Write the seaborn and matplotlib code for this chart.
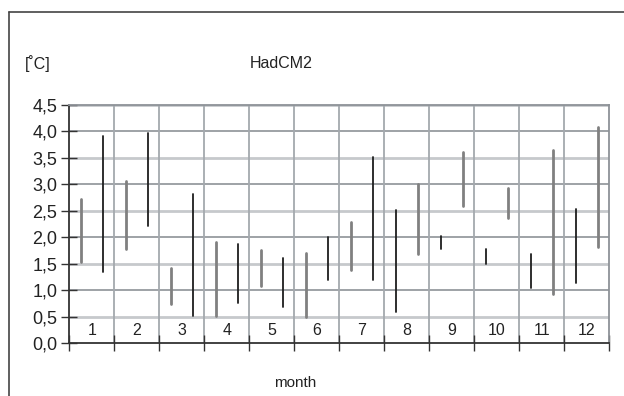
import matplotlib
matplotlib.use("Agg")
import matplotlib.pyplot as plt
import seaborn as sns
import pandas as pd
from matplotlib.lines import Line2D

# ---- data ----
months = [1, 2, 3, 4, 5, 6, 7, 8, 9, 10, 11, 12]
first_low = [1.54, 1.78, 0.74, 0.52, 1.09, 0.50, 1.39, 0.60, 1.79, 1.49, 1.04, 1.13]
first_high = [2.73, 3.07, 1.43, 1.91, 1.76, 1.71, 2.30, 2.51, 2.02, 1.78, 1.68, 2.54]
second_low = [1.35, 2.22, 0.52, 0.76, 0.69, 1.19, 1.19, 1.69, 2.59, 2.36, 0.94, 1.82]
second_high = [3.92, 3.98, 2.81, 1.87, 1.61, 2.01, 3.51, 3.00, 3.61, 2.93, 3.65, 4.09]
first_tone = ["grey"] * 7 + ["black"] * 5
second_tone = ["black"] * 7 + ["grey"] * 5
ytick_vals = [0.0, 0.5, 1.0, 1.5, 2.0, 2.5, 3.0, 3.5, 4.0, 4.5]
ytick_labels = ["0,0", "0,5", "1,0", "1,5", "2,0", "2,5", "3,0", "3,5", "4,0", "4,5"]
title = "HadCM2"
unit_label = "[˚C]"
xlabel = "month"

# ---- build long table of segments ----
rows = []
for i, m in enumerate(months):
    for pos, lo, hi, tone, tag in [(0.25, first_low[i], first_high[i], first_tone[i], "a"),
                                   (0.75, second_low[i], second_high[i], second_tone[i], "b")]:
        seg = f"{m}{tag}"
        rows.append(dict(x=m - 1 + pos, y=lo, seg=seg, tone=tone))
        rows.append(dict(x=m - 1 + pos, y=hi, seg=seg, tone=tone))
df = pd.DataFrame(rows)

sns.set_style("white")
plt.rcParams["font.family"] = ["Liberation Sans", "DejaVu Sans"]

fig = plt.figure(figsize=(6.24, 3.96), dpi=100)
ax = fig.add_axes([69.3 / 624, 1 - 343.3 / 396, 540 / 624, 238.3 / 396])

# gridlines
for k, v in enumerate(ytick_vals[1:], start=1):
    if k % 2 == 1:
        ax.axhline(v, color="#c6c9cc", lw=2.0, zorder=0)
    else:
        ax.axhline(v, color="#8d9297", lw=1.2, zorder=0)
for m in range(1, 12):
    ax.axvline(m, color="#a4a9ae", lw=1.3, zorder=0)

grey_df = df[df.tone == "grey"]
black_df = df[df.tone == "black"]
sns.lineplot(data=grey_df, x="x", y="y", units="seg", estimator=None, sort=False,
             color="#808080", lw=2.0, ax=ax, legend=False)
sns.lineplot(data=black_df, x="x", y="y", units="seg", estimator=None, sort=False,
             color="#1e1e1e", lw=1.3, ax=ax, legend=False)

ax.set_xlim(0, 12)
ax.set_ylim(0, 4.5)
ax.set_yticks(ytick_vals)
ax.set_yticklabels(ytick_labels, fontsize=13, color="#222222")
ax.set_xticks(range(0, 13))
ax.set_xticklabels([])
ax.xaxis.set_ticks_position("bottom")
ax.yaxis.set_ticks_position("left")
ax.tick_params(axis="y", direction="inout", length=11, width=1.0, color="#333333", pad=3)
ax.tick_params(axis="x", direction="inout", length=11, width=1.0, color="#333333")
ax.set_xlabel("")
ax.set_ylabel("")

for sp in ["top", "right"]:
    ax.spines[sp].set_visible(True)
    ax.spines[sp].set_color("#8d9297")
    ax.spines[sp].set_linewidth(1.3)
for sp in ["left", "bottom"]:
    ax.spines[sp].set_color("#333333")
    ax.spines[sp].set_linewidth(1.3)

for m in months:
    ax.text(m - 0.5, 0.24, str(m), ha="center", va="center", fontsize=11.5, color="#222222")

fig.text(25 / 624, 1 - 64 / 396, unit_label, ha="left", va="center", fontsize=11.5, color="#222222")
fig.text(281 / 624, 1 - 64 / 396, title, ha="center", va="center", fontsize=11.5, color="#222222")
fig.text(295 / 624, 1 - 383 / 396, xlabel, ha="center", va="center", fontsize=11, color="#222222")

# outer frame (partly cut)
fig.add_artist(Line2D([9 / 624, 9 / 624], [0, 1 - 12 / 396], transform=fig.transFigure,
                      color="#444444", lw=1.2))
fig.add_artist(Line2D([9 / 624, 1], [1 - 12 / 396, 1 - 12 / 396], transform=fig.transFigure,
                      color="#444444", lw=1.2))

fig.savefig("out.png", dpi=100)
